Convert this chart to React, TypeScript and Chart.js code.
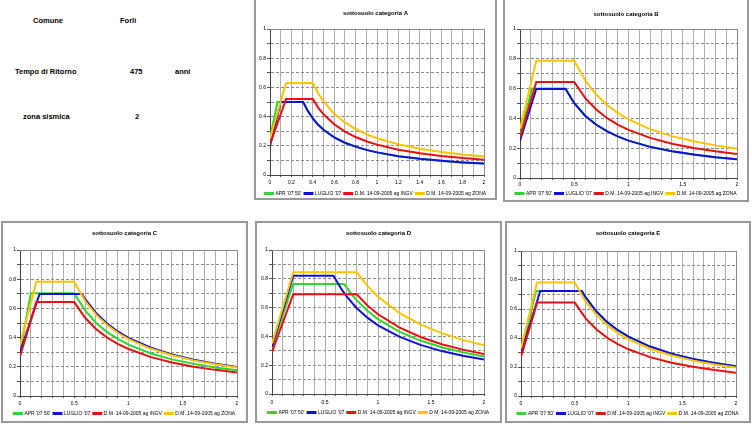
import React, { useEffect, useRef } from 'react';
import { Chart, registerables } from 'chart.js';

Chart.register(...registerables);

const FONT = "'Liberation Sans', Arial, sans-serif";

// ---------- data ----------
const SERIES_LABELS = ["APR '07 50'", "LUGLIO '07", 'D.M. 14-09-2005 ag INGV', 'D.M. 14-09-2005 ag ZONA'];
const SERIES_COLORS = ['#2fd62f', '#1010d8', '#e81010', '#ffc400'];
const TITLES = ['sottosuolo categoria A', 'sottosuolo categoria B', 'sottosuolo categoria C', 'sottosuolo categoria D', 'sottosuolo categoria E'];
const X_LABELS_FINE = ['0', '0.2', '0.4', '0.6', '0.8', '1', '1.2', '1.4', '1.6', '1.8', '2'];
const X_LABELS_COARSE = ['0', '0.5', '1', '1.5', '2'];
const Y_LABELS = ['0', '0.2', '0.4', '0.6', '0.8', '1'];

const INFO_ROWS = [
  ['Comune', 'Forlì', ''],
  ['Tempo di Ritorno', '475', 'anni'],
  ['zona sismica', '2', ''],
];

type Pt = [number, number];

const A_APR: Pt[] = [[0, 0.25], [0.07, 0.5], [0.31, 0.5], [0.35, 0.443], [0.4, 0.388], [0.45, 0.344], [0.5, 0.31], [0.6, 0.258], [0.7, 0.221], [0.8, 0.194], [0.9, 0.172], [1.0, 0.155], [1.2, 0.129], [1.4, 0.111], [1.6, 0.097], [1.8, 0.086], [2.0, 0.078]];
const A_LUGLIO: Pt[] = [[0, 0.2], [0.1, 0.5], [0.31, 0.5], [0.35, 0.443], [0.4, 0.388], [0.45, 0.344], [0.5, 0.31], [0.6, 0.258], [0.7, 0.221], [0.8, 0.194], [0.9, 0.172], [1.0, 0.155], [1.2, 0.129], [1.4, 0.111], [1.6, 0.097], [1.8, 0.086], [2.0, 0.078]];
const A_INGV: Pt[] = [[0, 0.21], [0.15, 0.52], [0.4, 0.52], [0.45, 0.462], [0.5, 0.416], [0.6, 0.347], [0.7, 0.297], [0.8, 0.26], [0.9, 0.231], [1.0, 0.208], [1.2, 0.173], [1.4, 0.149], [1.6, 0.13], [1.8, 0.116], [2.0, 0.104]];
const A_ZONA: Pt[] = [[0, 0.25], [0.15, 0.63], [0.4, 0.63], [0.45, 0.56], [0.5, 0.504], [0.6, 0.42], [0.7, 0.36], [0.8, 0.315], [0.9, 0.28], [1.0, 0.252], [1.2, 0.21], [1.4, 0.18], [1.6, 0.158], [1.8, 0.14], [2.0, 0.126]];

const B_APR: Pt[] = [[0, 0.28], [0.11, 0.6], [0.42, 0.6], [0.5, 0.502], [0.6, 0.418], [0.7, 0.359], [0.8, 0.314], [0.9, 0.279], [1.0, 0.251], [1.2, 0.209], [1.4, 0.179], [1.6, 0.157], [1.8, 0.139], [2.0, 0.126]];
const B_LUGLIO: Pt[] = [[0, 0.25], [0.15, 0.598], [0.42, 0.598], [0.5, 0.502], [0.6, 0.418], [0.7, 0.359], [0.8, 0.314], [0.9, 0.279], [1.0, 0.251], [1.2, 0.209], [1.4, 0.179], [1.6, 0.157], [1.8, 0.139], [2.0, 0.126]];
const B_INGV: Pt[] = [[0, 0.27], [0.15, 0.645], [0.5, 0.645], [0.6, 0.538], [0.7, 0.461], [0.8, 0.403], [0.9, 0.358], [1.0, 0.323], [1.2, 0.269], [1.4, 0.23], [1.6, 0.202], [1.8, 0.179], [2.0, 0.161]];
const B_ZONA: Pt[] = [[0, 0.33], [0.15, 0.787], [0.5, 0.787], [0.6, 0.656], [0.7, 0.562], [0.8, 0.492], [0.9, 0.437], [1.0, 0.394], [1.2, 0.328], [1.4, 0.281], [1.6, 0.246], [1.8, 0.219], [2.0, 0.197]];

const C_APR: Pt[] = [[0, 0.3], [0.1, 0.703], [0.5, 0.703], [0.6, 0.586], [0.7, 0.502], [0.8, 0.439], [0.9, 0.391], [1.0, 0.352], [1.2, 0.293], [1.4, 0.251], [1.6, 0.22], [1.8, 0.195], [2.0, 0.176]];
const C_LUGLIO: Pt[] = [[0, 0.3], [0.18, 0.698], [0.57, 0.698], [0.6, 0.663], [0.7, 0.569], [0.8, 0.498], [0.9, 0.442], [1.0, 0.398], [1.2, 0.332], [1.4, 0.284], [1.6, 0.249], [1.8, 0.221], [2.0, 0.199]];
const C_INGV: Pt[] = [[0, 0.27], [0.15, 0.643], [0.5, 0.643], [0.6, 0.536], [0.7, 0.459], [0.8, 0.402], [0.9, 0.357], [1.0, 0.322], [1.2, 0.268], [1.4, 0.23], [1.6, 0.201], [1.8, 0.179], [2.0, 0.161]];
const C_ZONA: Pt[] = [[0, 0.35], [0.15, 0.783], [0.5, 0.783], [0.6, 0.65], [0.7, 0.557], [0.8, 0.488], [0.9, 0.433], [1.0, 0.39], [1.2, 0.325], [1.4, 0.279], [1.6, 0.244], [1.8, 0.217], [2.0, 0.195]];

const D_APR: Pt[] = [[0, 0.32], [0.2, 0.764], [0.68, 0.764], [0.75, 0.693], [0.8, 0.65], [0.9, 0.578], [1.0, 0.52], [1.2, 0.433], [1.4, 0.371], [1.6, 0.325], [1.8, 0.289], [2.0, 0.26]];
const D_LUGLIO: Pt[] = [[0, 0.33], [0.2, 0.822], [0.58, 0.822], [0.65, 0.734], [0.7, 0.681], [0.8, 0.596], [0.9, 0.53], [1.0, 0.477], [1.2, 0.398], [1.4, 0.341], [1.6, 0.298], [1.8, 0.265], [2.0, 0.239]];
const D_INGV: Pt[] = [[0, 0.29], [0.2, 0.692], [0.8, 0.692], [0.9, 0.615], [1.0, 0.554], [1.2, 0.462], [1.4, 0.396], [1.6, 0.346], [1.8, 0.308], [2.0, 0.277]];
const D_ZONA: Pt[] = [[0, 0.35], [0.2, 0.845], [0.8, 0.845], [0.9, 0.751], [1.0, 0.676], [1.2, 0.563], [1.4, 0.483], [1.6, 0.423], [1.8, 0.376], [2.0, 0.338]];

const E_APR: Pt[] = [[0, 0.3], [0.14, 0.724], [0.565, 0.724], [0.6, 0.682], [0.7, 0.584], [0.8, 0.511], [0.9, 0.454], [1.0, 0.409], [1.2, 0.341], [1.4, 0.292], [1.6, 0.256], [1.8, 0.227], [2.0, 0.205]];
const E_LUGLIO: Pt[] = [[0, 0.3], [0.18, 0.724], [0.565, 0.724], [0.6, 0.682], [0.7, 0.584], [0.8, 0.511], [0.9, 0.454], [1.0, 0.409], [1.2, 0.341], [1.4, 0.292], [1.6, 0.256], [1.8, 0.227], [2.0, 0.205]];
const E_INGV: Pt[] = [[0, 0.27], [0.15, 0.644], [0.5, 0.644], [0.6, 0.537], [0.7, 0.46], [0.8, 0.403], [0.9, 0.358], [1.0, 0.322], [1.2, 0.268], [1.4, 0.23], [1.6, 0.201], [1.8, 0.179], [2.0, 0.161]];
const E_ZONA: Pt[] = [[0, 0.33], [0.15, 0.782], [0.5, 0.782], [0.6, 0.652], [0.7, 0.559], [0.8, 0.489], [0.9, 0.434], [1.0, 0.391], [1.2, 0.326], [1.4, 0.279], [1.6, 0.244], [1.8, 0.217], [2.0, 0.196]];

// ---------- layout (page pixel positions) ----------
type Spec = {
  title: string;
  series: Pt[][];
  xLabels: string[];
  box: { l: number; t: number; r: number; b: number };
  plot: { l: number; t: number; r: number; b: number };
  titleY: number;
  labelsDy: number;
  legendDy: number;
};

const SPECS: Spec[] = [
  { title: TITLES[0], series: [A_APR, A_LUGLIO, A_INGV, A_ZONA], xLabels: X_LABELS_FINE,
    box: { l: 254, t: -3, r: 497, b: 200 }, plot: { l: 270, t: 29, r: 484, b: 175 }, titleY: 13, labelsDy: 8, legendDy: 18 },
  { title: TITLES[1], series: [B_APR, B_LUGLIO, B_INGV, B_ZONA], xLabels: X_LABELS_COARSE,
    box: { l: 503, t: -3, r: 749, b: 202 }, plot: { l: 520, t: 29, r: 737, b: 178 }, titleY: 14, labelsDy: 6.5, legendDy: 15.5 },
  { title: TITLES[2], series: [C_APR, C_LUGLIO, C_INGV, C_ZONA], xLabels: X_LABELS_COARSE,
    box: { l: 1, t: 221, r: 248, b: 423 }, plot: { l: 20, t: 250, r: 237, b: 396 }, titleY: 233, labelsDy: 7.5, legendDy: 17 },
  { title: TITLES[3], series: [D_APR, D_LUGLIO, D_INGV, D_ZONA], xLabels: X_LABELS_COARSE,
    box: { l: 255, t: 221, r: 502, b: 423 }, plot: { l: 272, t: 250, r: 484, b: 394 }, titleY: 233, labelsDy: 8.5, legendDy: 18.5 },
  { title: TITLES[4], series: [E_APR, E_LUGLIO, E_INGV, E_ZONA], xLabels: X_LABELS_COARSE,
    box: { l: 505, t: 221, r: 751, b: 423 }, plot: { l: 521, t: 251, r: 736, b: 396 }, titleY: 233, labelsDy: 8, legendDy: 17 },
];

const BORDER = 2;
const LEG_FONT = 5;
const LEG_PAD = 3;
const TITLE_FONT = 6;
const TICK_FONT = 5;

function geometry(s: Spec) {
  const cl = s.box.l + BORDER;
  const ct = s.box.t + BORDER;
  const cw = s.box.r - s.box.l - 2 * BORDER;
  const plotL = s.plot.l - cl;
  const plotR = cl + cw - s.plot.r;
  const plotT = s.plot.t - ct;
  const plotB = s.plot.b - ct;
  const titleC = s.titleY - ct;
  const xH = Math.round(s.legendDy - LEG_PAD - LEG_FONT / 2);
  const legendH = LEG_FONT + LEG_PAD + 10;
  const ch = Math.round(plotB + xH + legendH);
  return { cl, ct, cw, ch, plotL, plotR, plotT, plotB, titleC, xH };
}

const framePlugin = {
  id: 'plotFrame',
  beforeDatasetsDraw(chart: any) {
    const { ctx, chartArea: a } = chart;
    ctx.save();
    ctx.setLineDash([]);
    ctx.strokeStyle = '#8a8a8a';
    ctx.lineWidth = 1;
    ctx.beginPath();
    ctx.moveTo(a.left, Math.round(a.top) + 0.5);
    ctx.lineTo(Math.round(a.right) + 0.5, Math.round(a.top) + 0.5);
    ctx.lineTo(Math.round(a.right) + 0.5, a.bottom);
    ctx.stroke();
    ctx.restore();
  },
};

function labelFor(list: string[]) {
  return (v: any) => {
    const val = Number(v);
    const hit = list.find((l) => Math.abs(Number(l) - val) < 1e-6);
    return hit !== undefined ? hit : '';
  };
}

function Panel({ spec }: { spec: Spec }) {
  const ref = useRef<HTMLCanvasElement | null>(null);
  const g = geometry(spec);

  useEffect(() => {
    if (!ref.current) return;
    const lh = TITLE_FONT * 1.2;
    const chart = new Chart(ref.current, {
      type: 'line',
      data: {
        datasets: spec.series.map((pts, i) => ({
          label: SERIES_LABELS[i],
          data: pts.map(([x, y]) => ({ x, y })),
          borderColor: SERIES_COLORS[i],
          backgroundColor: SERIES_COLORS[i],
          borderWidth: 2,
          pointRadius: 0,
          pointHoverRadius: 0,
          tension: 0,
          fill: false,
          order: 4 - i,
        })),
      },
      options: {
        responsive: false,
        animation: false,
        devicePixelRatio: 1,
        layout: { padding: 0 },
        scales: {
          x: {
            type: 'linear',
            min: 0,
            max: 2,
            ticks: {
              stepSize: 0.1,
              autoSkip: false,
              maxRotation: 0,
              minRotation: 0,
              padding: spec.labelsDy - 5,
              font: { family: FONT, size: TICK_FONT },
              color: '#000',
              callback: labelFor(spec.xLabels),
            },
            grid: { color: '#adadad', lineWidth: 1, drawTicks: true, tickLength: 2, tickColor: '#555' },
            border: { display: true, color: '#444', width: 1 },
            afterFit: (s: any) => {
              const legH = s.chart.legend ? s.chart.legend.height : LEG_FONT + LEG_PAD + 10;
              s.height = s.chart.height - legH - g.plotB;
            },
          },
          y: {
            type: 'linear',
            min: 0,
            max: 1,
            ticks: {
              stepSize: 0.1,
              autoSkip: false,
              padding: 1,
              font: { family: FONT, size: TICK_FONT },
              color: '#000',
              callback: labelFor(Y_LABELS),
            },
            grid: { color: '#8c8c8c', lineWidth: 1, drawTicks: true, tickLength: 3, tickColor: '#555' },
            border: { display: true, color: '#444', width: 1, dash: [3, 2] },
            afterFit: (s: any) => {
              s.width = g.plotL;
            },
          },
          y2: {
            type: 'linear',
            position: 'right',
            display: true,
            grid: { display: false },
            border: { display: false },
            ticks: { display: false },
            afterFit: (s: any) => {
              s.width = g.plotR;
            },
          },
        },
        plugins: {
          title: {
            display: true,
            text: spec.title,
            color: '#000',
            font: { family: FONT, size: TITLE_FONT, weight: 'bold' },
            padding: { top: g.titleC - lh / 2, bottom: g.plotT - g.titleC - lh / 2 },
          },
          legend: {
            display: true,
            position: 'bottom',
            labels: {
              color: '#000',
              font: { family: FONT, size: LEG_FONT },
              boxWidth: 8,
              boxHeight: 1,
              padding: LEG_PAD,
              sort: (a: any, b: any) => a.datasetIndex - b.datasetIndex,
            },
          },
          tooltip: { enabled: false },
        },
      } as any,
      plugins: [framePlugin],
    });
    return () => chart.destroy();
  }, []);

  return (
    <>
      <div
        style={{
          position: 'absolute',
          left: spec.box.l,
          top: spec.box.t,
          width: spec.box.r - spec.box.l,
          height: spec.box.b - spec.box.t,
          boxSizing: 'border-box',
          border: `${BORDER}px solid #9a9a9a`,
          background: '#fff',
        }}
      />
      <canvas
        ref={ref}
        width={g.cw}
        height={g.ch}
        style={{ position: 'absolute', left: g.cl, top: g.ct, width: g.cw, height: g.ch }}
      />
    </>
  );
}

const INFO_POS = [
  { y: 21, x: [33, 120, 0] },
  { y: 72, x: [15, 130, 175] },
  { y: 117, x: [23, 135, 0] },
];

export default function App() {
  return (
    <div
      style={{
        position: 'fixed',
        left: 0,
        top: 0,
        width: 752,
        height: 424,
        overflow: 'hidden',
        background: '#fff',
      }}
    >
      {INFO_ROWS.map((row, ri) =>
        row.map((txt, ci) =>
          txt ? (
            <div
              key={`${ri}-${ci}`}
              style={{
                position: 'absolute',
                left: INFO_POS[ri].x[ci],
                top: INFO_POS[ri].y - 4,
                fontFamily: FONT,
                fontSize: 7.5,
                fontWeight: 'bold',
                lineHeight: '8px',
                whiteSpace: 'nowrap',
                color: '#000',
              }}
            >
              {txt}
            </div>
          ) : null
        )
      )}
      {SPECS.map((s, i) => (
        <Panel key={i} spec={s} />
      ))}
    </div>
  );
}
